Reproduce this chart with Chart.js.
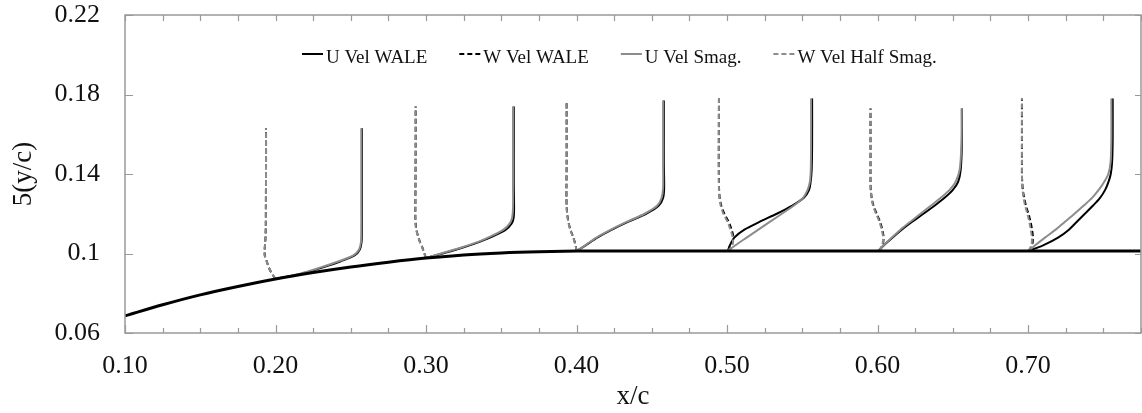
<!DOCTYPE html>
<html>
<head>
<meta charset="utf-8">
<script src="https://cdn.jsdelivr.net/npm/chart.js@4.4.0/dist/chart.umd.min.js"></script>
<style>
  html, body { margin: 0; padding: 0; background: #fff; }
</style>
</head>
<body>
<canvas id="myChart" width="1142" height="413"></canvas>
<script>
// axis ticks
const xTicks = [0.1, 0.2, 0.3, 0.4, 0.5, 0.6, 0.7];
const yTicks = [0.06, 0.1, 0.14, 0.18, 0.22];
const yTickLabels = ['0.06', '0.1', '0.14', '0.18', '0.22'];

// surface line
const wallX = [0.10, 0.125, 0.15, 0.175, 0.20, 0.225, 0.25, 0.275, 0.30, 0.325, 0.35, 0.375, 0.40, 0.45, 0.50, 0.60, 0.70, 0.775];
const wallY = [0.0686, 0.0742, 0.0792, 0.0834, 0.0872, 0.0904, 0.0932, 0.0956, 0.0977, 0.0993, 0.1003, 0.1009, 0.1012, 0.1013, 0.1013, 0.1013, 0.1013, 0.1013];

// station x/c = 0.2
const y20 = [0.0872, 0.090, 0.093, 0.096, 0.099, 0.102, 0.106, 0.112, 0.125, 0.145, 0.163];
const uWale20 = [0.200, 0.218, 0.2315, 0.243, 0.2525, 0.256, 0.2572, 0.2574, 0.2574, 0.2574, 0.2574];
const uSmag20 = [0.200, 0.217, 0.230, 0.2417, 0.2517, 0.2555, 0.2568, 0.2570, 0.2570, 0.2570, 0.2570];
const wWale20 = [0.200, 0.1975, 0.1955, 0.1942, 0.1929, 0.1928, 0.1932, 0.1935, 0.1936, 0.1937, 0.1937];
const wSmag20 = [0.200, 0.1975, 0.1955, 0.1942, 0.1928, 0.1928, 0.1932, 0.1935, 0.1936, 0.1937, 0.1937];

// station x/c = 0.3
const y30 = [0.0977, 0.100, 0.103, 0.106, 0.109, 0.112, 0.115, 0.118, 0.123, 0.135, 0.155, 0.174];
const uWale30 = [0.300, 0.311, 0.3245, 0.336, 0.3455, 0.353, 0.3568, 0.3582, 0.3585, 0.3583, 0.3583, 0.3583];
const uSmag30 = [0.300, 0.310, 0.3235, 0.335, 0.344, 0.3515, 0.3555, 0.3572, 0.3578, 0.3578, 0.3578, 0.3578];
const wWale30 = [0.300, 0.2989, 0.2976, 0.2959, 0.2946, 0.2936, 0.2931, 0.2929, 0.2929, 0.2930, 0.2931, 0.2931];
const wSmag30 = [0.300, 0.2988, 0.2975, 0.2958, 0.2945, 0.2935, 0.2930, 0.2929, 0.2929, 0.2930, 0.2931, 0.2931];

// station x/c = 0.4
const y40 = [0.1012, 0.104, 0.108, 0.112, 0.116, 0.120, 0.124, 0.128, 0.133, 0.145, 0.160, 0.177];
const uWale40 = [0.400, 0.4058, 0.4138, 0.4235, 0.4345, 0.4462, 0.4545, 0.4575, 0.4582, 0.458, 0.458, 0.458];
const uSmag40 = [0.400, 0.4055, 0.4132, 0.4228, 0.4336, 0.4452, 0.4535, 0.4565, 0.4575, 0.4575, 0.4575, 0.4575];
const wWale40 = [0.400, 0.3994, 0.3979, 0.3959, 0.3946, 0.3938, 0.3934, 0.3933, 0.3933, 0.3934, 0.3934, 0.3934];
const wSmag40 = [0.400, 0.3993, 0.3978, 0.3958, 0.3945, 0.3937, 0.3934, 0.3933, 0.3933, 0.3934, 0.3934, 0.3934];

// station x/c = 0.5
const y50 = [0.1013, 0.104, 0.108, 0.112, 0.116, 0.120, 0.124, 0.128, 0.132, 0.136, 0.142, 0.155, 0.178];
const uWale50 = [0.5005, 0.5018, 0.5048, 0.5115, 0.5218, 0.533, 0.543, 0.551, 0.5545, 0.5555, 0.5562, 0.5565, 0.5565];
const uSmag50 = [0.5005, 0.5053, 0.513, 0.5208, 0.5286, 0.5364, 0.5442, 0.5505, 0.5535, 0.5550, 0.5556, 0.5558, 0.5558];
const wWale50 = [0.5005, 0.5030, 0.5042, 0.5030, 0.5010, 0.4982, 0.4962, 0.4951, 0.4947, 0.4946, 0.4945, 0.4945, 0.4946];
const wSmag50 = [0.5005, 0.5035, 0.5038, 0.5022, 0.5003, 0.4975, 0.4958, 0.4949, 0.4946, 0.4945, 0.4945, 0.4945, 0.4946];

// station x/c = 0.6
const y60 = [0.1013, 0.104, 0.108, 0.112, 0.116, 0.120, 0.124, 0.128, 0.132, 0.136, 0.142, 0.155, 0.173];
const uWale60 = [0.6005, 0.6040, 0.610, 0.616, 0.623, 0.6305, 0.6378, 0.6445, 0.650, 0.6535, 0.6552, 0.656, 0.656];
const uSmag60 = [0.6005, 0.6038, 0.6095, 0.6152, 0.6218, 0.6285, 0.6353, 0.6420, 0.6478, 0.6518, 0.6545, 0.6557, 0.6559];
const wWale60 = [0.6008, 0.6032, 0.6040, 0.6031, 0.6016, 0.5994, 0.5973, 0.5961, 0.5955, 0.5953, 0.5953, 0.5953, 0.5953];
const wSmag60 = [0.6008, 0.6030, 0.6037, 0.6027, 0.6012, 0.5990, 0.5970, 0.5960, 0.5955, 0.5953, 0.5953, 0.5953, 0.5953];

// station x/c = 0.7
const y70 = [0.1013, 0.104, 0.108, 0.112, 0.116, 0.120, 0.124, 0.128, 0.132, 0.136, 0.140, 0.146, 0.158, 0.178];
const uWale70 = [0.7003, 0.7096, 0.7199, 0.7271, 0.7324, 0.7377, 0.7430, 0.7478, 0.7512, 0.7534, 0.7549, 0.7558, 0.7562, 0.7562];
const uSmag70 = [0.7003, 0.7045, 0.7112, 0.7183, 0.7245, 0.7308, 0.7368, 0.7425, 0.7469, 0.7505, 0.7533, 0.7548, 0.7553, 0.7553];
const wWale70 = [0.7003, 0.7026, 0.7032, 0.7026, 0.7016, 0.7002, 0.6986, 0.6974, 0.6965, 0.6961, 0.6959, 0.6959, 0.6959, 0.6959];
const wSmag70 = [0.7003, 0.7022, 0.7025, 0.7017, 0.7008, 0.6995, 0.6980, 0.6970, 0.6963, 0.6960, 0.6959, 0.6959, 0.6959, 0.6959];

const stationY = [y20, y30, y40, y50, y60, y70];

// join the station profiles into one line per series, with gaps in between
function series(xLists) {
    let out = [];
    xLists.forEach((xs, i) => {
        if (i > 0) out.push({x: null, y: null});
        xs.forEach((x, j) => out.push({x: x, y: stationY[i][j]}));
    });
    return out;
}

const gray = '#8c8c8c';
const serif = "'Liberation Serif', 'DejaVu Serif', serif";

const data = {
    datasets: [
        {
            label: 'Wall',
            data: wallX.map((x, i) => ({x: x, y: wallY[i]})),
            borderColor: '#000', borderWidth: 3,
            cubicInterpolationMode: 'monotone', order: 0
        },
        {
            label: 'U Vel WALE',
            data: series([uWale20, uWale30, uWale40, uWale50, uWale60, uWale70]),
            borderColor: '#000', borderWidth: 2, tension: 0.3, order: 4
        },
        {
            label: 'W Vel WALE',
            data: series([wWale20, wWale30, wWale40, wWale50, wWale60, wWale70]),
            borderColor: '#000', borderWidth: 2, borderDash: [5, 3], tension: 0.3, order: 3
        },
        {
            label: 'U Vel Smag.',
            data: series([uSmag20, uSmag30, uSmag40, uSmag50, uSmag60, uSmag70]),
            borderColor: gray, borderWidth: 2, tension: 0.3, order: 2
        },
        {
            label: 'W Vel Half Smag.',
            data: series([wSmag20, wSmag30, wSmag40, wSmag50, wSmag60, wSmag70]),
            borderColor: gray, borderWidth: 2, borderDash: [5, 3], tension: 0.3, order: 1
        }
    ]
};

// frame with inward ticks on all four sides
const frameTicks = {
    id: 'frameTicks',
    afterDraw(chart) {
        const {ctx, chartArea: a, scales: {x, y}} = chart;
        ctx.save();
        ctx.strokeStyle = '#999';
        ctx.lineWidth = 1.5;
        ctx.strokeRect(a.left, a.top, a.right - a.left, a.bottom - a.top);
        ctx.lineWidth = 1.2;
        ctx.beginPath();
        for (let i = 0; i <= 27; i++) {
            const v = 0.1 + i * 0.025;
            const px = Math.round(x.getPixelForValue(v)) + 0.5;
            const major = i % 4 === 0;
            ctx.moveTo(px, a.bottom);
            ctx.lineTo(px, a.bottom - (major ? 8 : 5));
            ctx.moveTo(px, a.top);
            ctx.lineTo(px, a.top + 6);
        }
        yTicks.forEach(v => {
            const py = Math.round(y.getPixelForValue(v)) + 0.5;
            ctx.moveTo(a.left, py);
            ctx.lineTo(a.left + 8, py);
            ctx.moveTo(a.right, py);
            ctx.lineTo(a.right - 6, py);
        });
        ctx.stroke();
        ctx.restore();
    }
};

// legend drawn inside the plot, one row
const insideLegend = {
    id: 'insideLegend',
    afterDraw(chart) {
        const {ctx, chartArea: a} = chart;
        const items = chart.data.datasets.filter(d => d.label !== 'Wall');
        ctx.save();
        ctx.font = "19px " + serif;
        ctx.textBaseline = 'alphabetic';
        ctx.fillStyle = '#111';
        let px = a.left + 177;
        const lineY = a.top + 39;
        items.forEach(d => {
            ctx.strokeStyle = d.borderColor;
            ctx.lineWidth = 2;
            ctx.setLineDash(d.borderDash ? [5, 3] : []);
            ctx.beginPath();
            ctx.moveTo(px, lineY);
            ctx.lineTo(px + 21, lineY);
            ctx.stroke();
            ctx.setLineDash([]);
            ctx.fillText(d.label, px + 24, a.top + 48);
            px += 24 + ctx.measureText(d.label).width + 32;
        });
        ctx.restore();
    }
};

const config = {
    type: 'scatter',
    data,
    options: {
        responsive: false,
        animation: false,
        showLine: true,
        spanGaps: false,
        elements: { point: { radius: 0 } },
        layout: { padding: { top: 15, right: 1, left: 0, bottom: 0 } },
        plugins: { legend: { display: false }, tooltip: { enabled: false } },
        scales: {
            x: {
                type: 'linear', position: 'bottom', min: 0.1, max: 0.775,
                afterFit(s) { s.height = 80; s.paddingLeft = 0; s.paddingRight = 0; },
                afterBuildTicks(s) { s.ticks = xTicks.map(v => ({value: v})); },
                grid: { display: false, drawTicks: false },
                border: { display: false },
                ticks: {
                    padding: 20, color: '#111',
                    font: { family: serif, size: 26, lineHeight: 1 },
                    callback: v => v.toFixed(2)
                },
                title: {
                    display: true, text: 'x/c', color: '#111',
                    font: { family: serif, size: 27, lineHeight: 1.2 },
                    padding: { top: 0, bottom: 0 }
                }
            },
            y: {
                type: 'linear', position: 'left', min: 0.06, max: 0.22,
                afterFit(s) { s.width = 125; s.paddingTop = 0; s.paddingBottom = 0; },
                afterBuildTicks(s) { s.ticks = yTicks.map(v => ({value: v})); },
                grid: { display: false, drawTicks: false },
                border: { display: false },
                ticks: {
                    padding: 25, color: '#111',
                    font: { family: serif, size: 26, lineHeight: 1 },
                    callback: (v, i) => yTickLabels[i]
                },
                title: {
                    display: true, text: '5(y/c)', color: '#111',
                    font: { family: serif, size: 27, lineHeight: 1.2 },
                    padding: { top: 8, bottom: 0 }
                }
            }
        }
    },
    plugins: [frameTicks, insideLegend]
};

let ctx = document.getElementById('myChart').getContext('2d');
let chart = new Chart(ctx, config);
</script>
</body>
</html>
